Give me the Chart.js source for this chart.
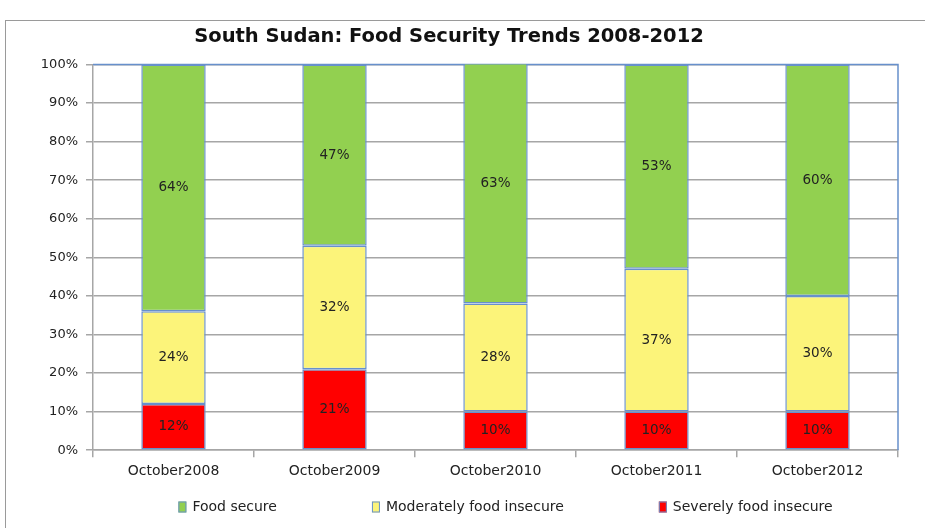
<!DOCTYPE html>
<html>
<head>
<meta charset="utf-8">
<script src="https://cdn.jsdelivr.net/npm/chart.js@4.4.1/dist/chart.umd.min.js"></script>
<style>
  html, body { margin: 0; padding: 0; background: #ffffff; }
  #wrap { position: relative; width: 925px; height: 528px; overflow: hidden; }
  #frame { position: absolute; left: 5px; top: 20px; width: 940px; height: 540px;
           border-left: 1px solid #9a9a9a; border-top: 1px solid #9a9a9a; }
  canvas { position: absolute; left: 0; top: 0; }
</style>
</head>
<body>
<div id="wrap">
  <div id="frame"></div>
  <canvas id="chart" width="925" height="528"></canvas>
</div>
<script>
// Survey rounds
const categories = ['October2008', 'October2009', 'October2010', 'October2011', 'October2012'];

// Share of population (%) in each food security phase
const severelyInsecure   = [12, 21, 10, 10, 10];
const moderatelyInsecure = [24, 32, 28, 37, 30];
const foodSecure         = [64, 47, 63, 53, 60];

const yTicks = [0, 10, 20, 30, 40, 50, 60, 70, 80, 90, 100];

const BAR_EDGE = '#6790cc';
const GRID = '#a6a6a6';
const TEXT = '#222222';
const FONT = "'DejaVu Sans', sans-serif";

// Draws each segment's value in the middle of its bar
const segmentLabels = {
  id: 'segmentLabels',
  afterDatasetsDraw(chart) {
    const ctx = chart.ctx;
    const area = chart.chartArea;
    ctx.save();
    ctx.font = '13.5px ' + FONT;
    ctx.fillStyle = TEXT;
    ctx.textAlign = 'center';
    ctx.textBaseline = 'middle';
    chart.data.datasets.forEach((ds, i) => {
      chart.getDatasetMeta(i).data.forEach((bar, j) => {
        const top = Math.max(Math.min(bar.y, bar.base), area.top);
        const bottom = Math.min(Math.max(bar.y, bar.base), area.bottom);
        ctx.fillText(ds.data[j] + '%', bar.x, (top + bottom) / 2);
      });
    });
    ctx.restore();
  }
};

// Blue outline along the top and right edges of the plot area
const plotEdge = {
  id: 'plotEdge',
  beforeDatasetsDraw(chart) {
    const { ctx, chartArea: a } = chart;
    ctx.save();
    ctx.strokeStyle = BAR_EDGE;
    ctx.lineWidth = 1.5;
    ctx.beginPath();
    ctx.moveTo(a.left, a.top);
    ctx.lineTo(a.right, a.top);
    ctx.lineTo(a.right, a.bottom);
    ctx.stroke();
    ctx.restore();
  }
};

// Single-row legend under the axis: top series first, small upright swatches
const bottomLegend = {
  id: 'bottomLegend',
  afterDraw(chart) {
    const { ctx, chartArea: a } = chart;
    const items = chart.data.datasets.slice().reverse();
    const boxW = 8, boxH = 11, textGap = 6, itemGap = 95, y = 507;
    ctx.save();
    ctx.font = '14px ' + FONT;
    const widths = items.map(ds => boxW + textGap + ctx.measureText(ds.label).width);
    const total = widths.reduce((s, w) => s + w, 0) + itemGap * (items.length - 1);
    let x = (a.left + a.right) / 2 - total / 2 + 10;
    items.forEach((ds, i) => {
      ctx.fillStyle = ds.backgroundColor;
      ctx.fillRect(x, y - boxH / 2, boxW, boxH);
      ctx.strokeStyle = BAR_EDGE;
      ctx.lineWidth = 1;
      ctx.strokeRect(x + 0.5, y - boxH / 2 + 0.5, boxW - 1, boxH - 1);
      ctx.fillStyle = TEXT;
      ctx.textAlign = 'left';
      ctx.textBaseline = 'middle';
      ctx.fillText(ds.label, x + boxW + textGap, y);
      x += widths[i] + itemGap;
    });
    ctx.restore();
  }
};

new Chart(document.getElementById('chart'), {
  type: 'bar',
  data: {
    labels: categories,
    datasets: [
      { label: 'Severely food insecure', data: severelyInsecure, backgroundColor: '#ff0000' },
      { label: 'Moderately food insecure', data: moderatelyInsecure, backgroundColor: '#fcf47a' },
      { label: 'Food secure', data: foodSecure, backgroundColor: '#92d050' }
    ].map(ds => Object.assign(ds, {
      borderColor: BAR_EDGE,
      borderWidth: 1.5,
      borderSkipped: false,
      categoryPercentage: 1,
      barPercentage: 0.4
    }))
  },
  options: {
    responsive: false,
    animation: false,
    layout: { padding: { left: 0, right: 27, top: 0, bottom: 42 } },
    scales: {
      x: {
        stacked: true,
        grid: { drawOnChartArea: false, color: GRID, lineWidth: 1.5, tickLength: 7 },
        border: { color: GRID, width: 1.5 },
        ticks: { color: TEXT, font: { family: FONT, size: 14 }, padding: 6 }
      },
      y: {
        stacked: true,
        min: 0,
        max: 100,
        afterBuildTicks: s => { s.ticks = yTicks.map(v => ({ value: v })); },
        afterFit: s => { s.width = 93; },
        grid: { color: GRID, lineWidth: 1.5, tickLength: 7 },
        border: { color: GRID, width: 1.5 },
        ticks: { color: TEXT, font: { family: FONT, size: 13 }, padding: 8,
                 callback: v => v + '%' }
      }
    },
    plugins: {
      title: {
        display: true,
        text: 'South Sudan: Food Security Trends 2008-2012',
        color: '#111111',
        font: { family: FONT, size: 19.5, weight: 'bold' },
        padding: { top: 25, bottom: 16 }
      },
      legend: { display: false },
      tooltip: { enabled: false }
    }
  },
  plugins: [segmentLabels, plotEdge, bottomLegend]
});
</script>
</body>
</html>
